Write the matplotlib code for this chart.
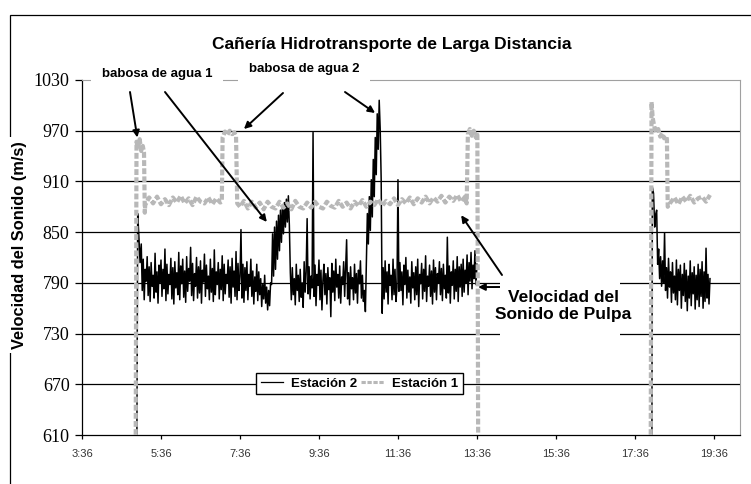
import numpy as np
import matplotlib
matplotlib.use('Agg')
import matplotlib.pyplot as plt
from matplotlib.patches import Rectangle

plt.rcParams['font.family'] = 'Liberation Sans'

# ---- data (hours of day, m/s) ----
STEP_E2 = 0.025  # regular stretches of Estación 2, every 1.5 min
STEP_E1 = 0.1    # regular stretches of Estación 1, every 6 min

# Estación 2 (black)
e2_on1_t = [4.99, 5.01, 5.04, 5.07]
e2_on1_v = [610, 872, 845, 814]
e2_a_t0 = 5.100
e2_a = [836, 781, 818, 770, 806, 792, 821, 775, 809, 768,
        814, 786, 799, 772, 825, 779, 803, 766, 811, 790,
        817, 774, 806, 783, 830, 769, 812, 777, 800, 788,
        819, 771, 808, 765, 815, 784, 802, 776, 826, 770,
        810, 789, 818, 773, 804, 767, 821, 780, 807, 792,
        832, 775, 813, 769, 801, 786, 820, 772, 809, 778,
        816, 766, 805, 791, 824, 774, 811, 783, 798, 770,
        818, 779, 807, 768, 829, 776, 803, 788, 814, 771,
        806, 782, 822, 769, 812, 777, 800, 790, 817, 773,
        809, 766, 819, 785, 804, 774, 827, 770, 813, 781,
        798, 853, 772, 812]
e2_b_t0 = 7.700
e2_b = [767, 808, 781, 815, 770, 800, 786, 818, 774, 804,
        765, 797, 780, 812, 769, 803, 776, 795, 762, 788,
        771, 799, 766, 785, 758, 781, 763, 790]
e2_c_t0 = 8.400  # babosa de agua 1
e2_c = [788, 848, 798, 856, 806, 863, 818, 870, 828, 876,
        838, 881, 848, 885, 856, 889, 862, 893, 858]
e2_d_t0 = 8.875
e2_d = [802, 770, 808, 776, 795, 764, 812, 781, 799, 768,
        806, 773, 790, 761, 815, 779, 803, 866, 777, 809,
        771, 798, 784, 968, 774, 811, 763, 800, 787, 817,
        770, 805, 758, 793, 812, 776, 801, 765, 808, 782,
        796, 750, 813, 779, 804, 769, 818, 785, 800, 772,
        810, 766, 797, 788, 815, 774, 806, 841, 771, 802,
        764, 809, 783, 796, 770, 812, 778, 801, 766, 805,
        789, 816, 772, 799, 768, 781, 756]
e2_e_t0 = 10.800  # babosa de agua 2
e2_e = [815, 872, 836, 892, 852, 912, 868, 936, 892, 962,
        918, 990, 948, 1006, 972, 912]
e2_f_t0 = 11.200
e2_f = [754, 808, 771, 816, 779, 803, 765, 812, 787, 799,
        770, 818, 776, 806, 768, 785, 912, 780, 814, 781,
        803, 764, 811, 788, 820, 772, 805, 779, 797, 766,
        815, 784, 802, 770, 809, 776, 818, 762, 800, 789,
        813, 771, 806, 780, 822, 768, 798, 786, 811, 774,
        804, 765, 817, 779, 808, 770, 801, 790, 815, 776,
        807, 769, 812, 783, 799, 772, 844, 778, 810, 766,
        803, 787, 816, 771, 806, 780, 821, 768, 809, 785,
        812, 774, 818, 779, 805, 790, 823, 776, 814, 792,
        826, 783, 811, 795, 828, 788, 812]
e2_on2_t = [18.03, 18.04, 18.07, 18.10, 18.125]
e2_on2_v = [610, 903, 896, 856, 871]
e2_g_t0 = 18.150
e2_g = [876, 812, 830, 795, 821, 786, 816, 790, 849, 781,
        808, 772, 819, 785, 803, 767, 814, 778, 798, 770,
        817, 764, 806, 781, 811, 760, 800, 775, 813, 768,
        805, 757, 798, 772, 816, 763, 802, 777, 809, 759,
        799, 770, 812, 762, 806, 774, 815, 760, 803, 768,
        831, 772, 800, 765, 795]

# Estación 1 (grey)
e1_on1_t = [4.96, 4.98, 5.02, 5.06, 5.10, 5.14, 5.17, 5.19]
e1_on1_v = [610, 957, 949, 960, 946, 952, 944, 873]
e1_a_t0 = 5.20
e1_a = [882, 891, 884, 892, 883, 889, 882, 891, 885, 893,
        884, 890, 882, 892, 886, 884, 891, 883, 890, 885]
e1_slug_t = [7.14, 7.16, 7.22, 7.28, 7.34, 7.40, 7.46, 7.50, 7.53]
e1_slug_v = [886, 962, 969, 965, 970, 966, 968, 963, 884]
e1_b_t0 = 7.60
e1_b = [880, 887, 878, 886, 879, 885, 877, 886, 880, 878,
        886, 879, 884, 877, 887, 880, 878, 885, 879, 886,
        880, 878, 886, 881, 879, 887, 880, 885, 878, 886,
        881, 888, 880, 886, 882, 889, 881, 887, 883, 890,
        882, 889, 884, 891, 883, 890, 885, 892, 884, 891,
        886, 893, 885, 892, 887, 894, 886, 892]
e1_off_t = [13.34, 13.37, 13.42, 13.47, 13.52, 13.57, 13.61, 13.63]
e1_off_v = [884, 966, 972, 964, 970, 962, 968, 610]
e1_on2_t = [18.00, 18.02, 18.05, 18.09, 18.14, 18.19, 18.24, 18.29, 18.34, 18.39, 18.41, 18.43]
e1_on2_v = [610, 1004, 985, 975, 968, 972, 963, 967, 961, 964, 960, 880]
e1_c_t0 = 18.50
e1_c = [885, 891, 883, 892, 886, 893, 885, 890, 892, 886, 894]

yticks = [610, 670, 730, 790, 850, 910, 970, 1030]
xtick_hours = [3.6, 5.6, 7.6, 9.6, 11.6, 13.6, 15.6, 17.6, 19.6]
xtick_labels = ['3:36', '5:36', '7:36', '9:36', '11:36', '13:36', '15:36', '17:36', '19:36']


def regular(t0, vals, step):
    return list(t0 + step * np.arange(len(vals))), list(vals)


def join(parts):
    t, v = [], []
    for pt, pv in parts:
        t += list(pt)
        v += list(pv)
    return np.array(t), np.array(v, dtype=float)


gap = ([np.nan], [np.nan])
e2_t, e2_v = join([(e2_on1_t, e2_on1_v),
                   regular(e2_a_t0, e2_a, STEP_E2),
                   regular(e2_b_t0, e2_b, STEP_E2),
                   regular(e2_c_t0, e2_c, STEP_E2),
                   regular(e2_d_t0, e2_d, STEP_E2),
                   regular(e2_e_t0, e2_e, STEP_E2),
                   regular(e2_f_t0, e2_f, STEP_E2),
                   gap,
                   (e2_on2_t, e2_on2_v),
                   regular(e2_g_t0, e2_g, STEP_E2)])
e1_t, e1_v = join([(e1_on1_t, e1_on1_v),
                   regular(e1_a_t0, e1_a, STEP_E1),
                   (e1_slug_t, e1_slug_v),
                   regular(e1_b_t0, e1_b, STEP_E1),
                   (e1_off_t, e1_off_v),
                   gap,
                   (e1_on2_t, e1_on2_v),
                   regular(e1_c_t0, e1_c, STEP_E1)])

W, H = 751, 484
fig = plt.figure(figsize=(W / 100, H / 100), dpi=100)
ax = fig.add_axes([82 / W, 1 - 435 / H, (740 - 82) / W, 355 / H])

# outer chart-area frame
fig.add_artist(Rectangle((10 / W, -0.1), 1.2, 1.1 - 15 / H, transform=fig.transFigure,
                         fill=False, ec='black', lw=0.9, zorder=0))

for y in yticks[1:-1]:
    ax.axhline(y, color='black', lw=0.9, zorder=1)

ax.plot(e2_t, e2_v, color='black', lw=1.1, label='Estación 2', zorder=2)
ax.plot(e1_t, e1_v, color='#b8b8b8', lw=3.0, ls=(0, (1.4, 0.55)), label='Estación 1', zorder=3)

ax.set_xlim(3.6, 20.26)
ax.set_ylim(610, 1030)
ax.set_yticks(yticks)
ax.set_yticklabels([str(v) for v in yticks], family='Liberation Serif', fontsize=13)
ax.set_xticks(xtick_hours)
ax.set_xticklabels(xtick_labels, fontsize=8, color='#333333')
ax.tick_params(axis='y', direction='out', length=5, width=0.9, pad=4)
ax.tick_params(axis='x', direction='out', length=3, width=0.9, pad=7)
for s in ['top', 'right']:
    ax.spines[s].set_color('#a0a0a0')
for s in ['left', 'bottom']:
    ax.spines[s].set_linewidth(0.9)

leg = ax.legend(loc='center', bbox_to_anchor=(0.4217, 0.145), ncol=2, frameon=True,
                fancybox=False, edgecolor='black', framealpha=1, borderpad=0.35,
                handlelength=1.7, handletextpad=0.6, columnspacing=0.3,
                prop={'weight': 'bold', 'size': 9.5})
leg.get_frame().set_linewidth(1.0)
leg.get_lines()[0].set_linewidth(0.9)
leg.get_lines()[1].set_linewidth(2.2)

fig.text(392 / W, 1 - 45 / H, 'Cañería Hidrotransporte de Larga Distancia',
         ha='center', va='center', fontsize=12.5, fontweight='bold')
fig.text(20 / W, 1 - 245 / H, 'Velocidad del Sonido (m/s)', rotation=90,
         ha='center', va='center', fontsize=11.8, fontweight='bold',
         bbox=dict(fc='white', ec='none', pad=3))

box = dict(boxstyle='square,pad=0.8', fc='white', ec='none')
fig.text(157 / W, 1 - 74 / H, 'babosa de agua 1', ha='center', va='center',
         fontsize=9.5, fontweight='bold', bbox=box)
fig.text(304 / W, 1 - 69 / H, 'babosa de agua 2', ha='center', va='center',
         fontsize=9.5, fontweight='bold', bbox=box)

fig.add_artist(Rectangle((500 / W, 1 - 336 / H), 120 / W, 55 / H, transform=fig.transFigure,
                         fc='white', ec='none', zorder=2))
fig.text(563 / W, 1 - 306 / H, 'Velocidad del\nSonido de Pulpa', ha='center', va='center',
         fontsize=12.5, fontweight='bold', linespacing=1.1, zorder=3)

arrows = [((130, 92), (5.0, 962)),
          ((165, 92), (8.28, 862)),
          ((283, 93), (7.70, 972)),
          ((345, 92), (11.02, 991)),
          ((502, 275), (13.20, 870)),
          ((500, 287), (13.63, 785))]
for (px, py), (hx, hy) in arrows:
    ax.annotate('', xy=(hx, hy), xycoords='data',
                xytext=(px / W, 1 - py / H), textcoords='figure fraction',
                arrowprops=dict(arrowstyle='-|>', color='black', lw=1.4,
                                mutation_scale=10, shrinkA=0, shrinkB=0),
                annotation_clip=False, zorder=5)

fig.savefig('out.png', dpi=100)
